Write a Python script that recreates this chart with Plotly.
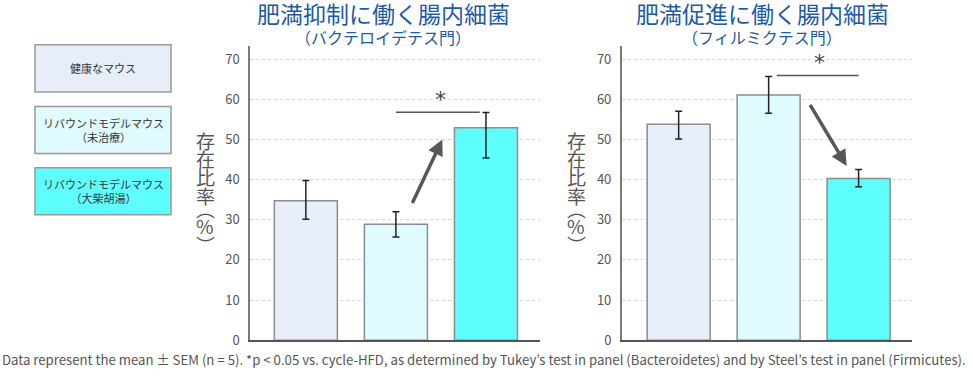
import plotly.graph_objects as go

W, H = 973, 385

# ---------------- data ----------------
groups = ["健康なマウス", "リバウンドモデルマウス<br>（未治療）", "リバウンドモデルマウス<br>（大柴胡湯）"]
bacteroidetes_mean = [34.7, 28.9, 52.9]
bacteroidetes_err_plus = [5.1, 3.1, 3.8]
bacteroidetes_err_minus = [4.6, 3.2, 7.5]
firmicutes_mean = [53.8, 61.1, 40.3]
firmicutes_err_plus = [3.2, 4.6, 2.2]
firmicutes_err_minus = [3.7, 4.6, 2.1]
y_ticks = [0, 10, 20, 30, 40, 50, 60, 70]
panel_titles = ["肥満抑制に働く腸内細菌", "肥満促進に働く腸内細菌"]
panel_subtitles = ["（バクテロイデテス門）", "（フィルミクテス門）"]
y_title_chars = ["存", "在", "比", "率", "︵", "%", "︶"]
footnote = ("Data represent the mean ± SEM (n = 5). *p < 0.05 vs. cycle-HFD, as determined by "
            "Tukey’s test in panel (Bacteroidetes) and by Steel’s test in panel (Firmicutes).")

# ---------------- styles ----------------
bar_colors = ["#e7eef9", "#e0fbfd", "#5ffefe"]
bar_line = "#8c8c8c"
title_blue = "#1d5aa8"
gray_text = "#555555"
CJK = "Noto Sans CJK JP"
xpos = [0, 1, 2]


def pxx(x):
    return x / W


def pxy(y):
    return 1 - y / H


fig = go.Figure()

fig.add_trace(go.Bar(
    x=xpos, y=bacteroidetes_mean, width=0.7,
    marker=dict(color=bar_colors, line=dict(color=bar_line, width=1.5)),
    error_y=dict(type="data", symmetric=False, array=bacteroidetes_err_plus,
                 arrayminus=bacteroidetes_err_minus, color="#222", thickness=1.5, width=3.5),
    xaxis="x", yaxis="y", showlegend=False, hoverinfo="skip"))

fig.add_trace(go.Bar(
    x=xpos, y=firmicutes_mean, width=0.7,
    marker=dict(color=bar_colors, line=dict(color=bar_line, width=1.5)),
    error_y=dict(type="data", symmetric=False, array=firmicutes_err_plus,
                 arrayminus=firmicutes_err_minus, color="#222", thickness=1.5, width=3.5),
    xaxis="x2", yaxis="y2", showlegend=False, hoverinfo="skip"))

y_top = 73.3
ydom = [pxy(348.3), pxy(47)]
yax_common = dict(range=[0, y_top], tickvals=y_ticks, showgrid=True, gridcolor="#d6d6d6",
                  griddash="dot", gridwidth=1, zeroline=False, showline=True, linecolor="#7a7a7a",
                  linewidth=1.5, ticks="", ticklabelstandoff=6,
                  tickfont=dict(family=CJK, size=13, color=gray_text), domain=ydom, fixedrange=True)
xax_common = dict(showticklabels=False, ticks="", showgrid=False, zeroline=False, showline=True,
                  linecolor="#555555", linewidth=2, fixedrange=True)

fig.update_layout(
    width=W, height=H, margin=dict(l=0, r=0, t=0, b=0),
    paper_bgcolor="white", plot_bgcolor="white", bargap=0.3,
    xaxis=dict(domain=[pxx(250), pxx(540)], range=[-0.62, 2.6], **xax_common),
    yaxis=dict(anchor="x", **yax_common),
    xaxis2=dict(domain=[pxx(621.7), pxx(911.7)], range=[-0.633, 2.59], anchor="y2", **xax_common),
    yaxis2=dict(anchor="x2", **yax_common),
)

annotations = []
shapes = []

# panel titles
for cx, t, st in zip([383, 762], panel_titles, panel_subtitles):
    annotations.append(dict(x=pxx(cx), y=pxy(13.5), xref="paper", yref="paper", text=t, showarrow=False,
                            font=dict(family=CJK, size=23, color=title_blue), xanchor="center", yanchor="middle"))
    annotations.append(dict(x=pxx(cx), y=pxy(38), xref="paper", yref="paper", text=st, showarrow=False,
                            font=dict(family=CJK, size=16, color=title_blue), xanchor="center", yanchor="middle"))

# vertical y-axis titles
char_y = [143.5, 162, 180.5, 200, 213, 230.5, 250]
for cx in [205, 576]:
    for ch, cy in zip(y_title_chars, char_y):
        annotations.append(dict(x=pxx(cx), y=pxy(cy), xref="paper", yref="paper", text=ch, showarrow=False,
                                font=dict(family=CJK, size=19, color=gray_text),
                                xanchor="center", yanchor="middle"))

# significance bars and stars
sig = [("x", "y", 1.0, 1.93, 56.8, 1.50), ("x2", "y2", 1.09, 2.0, 65.9, 1.56)]
for xr, yr, x0, x1, yv, sx in sig:
    shapes.append(dict(type="line", xref=xr, yref=yr, x0=x0, x1=x1, y0=yv, y1=yv,
                       line=dict(color="#555555", width=1.5)))
    annotations.append(dict(x=sx, y=yv, xref=xr, yref=yr, text="*", showarrow=False, yshift=13,
                            font=dict(family="DejaVu Sans", size=22, color="#444"),
                            xanchor="center", yanchor="middle"))

# trend arrows
arrows = [("x", "y", 1.175, 33.8, 1.515, 50.0), ("x2", "y2", 1.451, 59.0, 1.867, 43.4)]
for xr, yr, tx, ty, hx, hy in arrows:
    annotations.append(dict(x=hx, y=hy, ax=tx, ay=ty, xref=xr, yref=yr, axref=xr, ayref=yr,
                            text="", showarrow=True, arrowhead=2, arrowsize=0.9, arrowwidth=3.5,
                            arrowcolor="#575757"))

# legend boxes
box_rows = [(45.7, 94.3), (109, 157.3), (171.7, 220)]
for (y0, y1), col, label in zip(box_rows, bar_colors, groups):
    shapes.append(dict(type="rect", xref="paper", yref="paper", x0=pxx(35), x1=pxx(171),
                       y0=pxy(y1), y1=pxy(y0), fillcolor=col, line=dict(color="#999999", width=1.5),
                       layer="below"))
    annotations.append(dict(x=pxx(103), y=pxy((y0 + y1) / 2), xref="paper", yref="paper", text=label,
                            showarrow=False, font=dict(family=CJK, size=11, color="#333333"),
                            xanchor="center", yanchor="middle", align="center"))

# footnote
annotations.append(dict(x=0, y=pxy(368), xref="paper", yref="paper", text=footnote, showarrow=False,
                        font=dict(family=CJK, size=13.2, color=gray_text), xanchor="left", yanchor="middle"))

fig.update_layout(annotations=annotations, shapes=shapes)
fig.write_html("out.html", config={"displayModeBar": False},
               post_script="document.body.style.margin='0';document.body.style.overflow='hidden';")
